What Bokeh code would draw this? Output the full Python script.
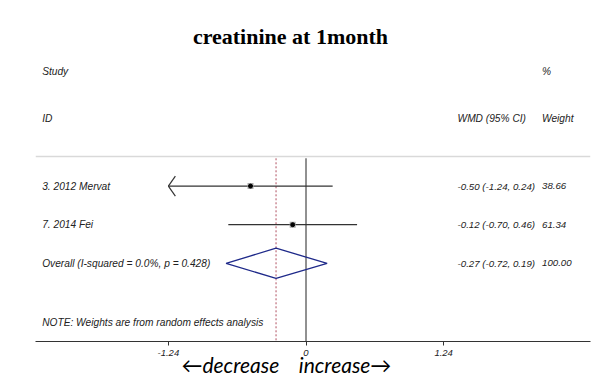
from bokeh.plotting import figure
from bokeh.models import Range1d, FixedTicker, Title, ColumnDataSource
from bokeh.core.properties import value
from bokeh.embed import file_html
from bokeh.resources import INLINE

# ---- data ----
studies = ["3. 2012 Mervat", "7. 2014 Fei"]
effect = [-0.50, -0.12]
ci_low = [-1.24, -0.70]
ci_high = [0.24, 0.46]
weights = [38.66, 61.34]
rows = [1, 2]

overall_label = "Overall  (I-squared = 0.0%, p = 0.428)"
overall_effect = -0.27
overall_low = -0.72
overall_high = 0.19
overall_weight = 100.00
overall_row = 3

axis_min = -1.24  # CI clipped at the displayed lower limit
tick_values = [-1.24, 0, 1.24]
tick_labels = ["-1.24", "0", "1.24"]

title_text = "creatinine at 1month"
note_text = "NOTE: Weights are from random effects analysis"
direction_text = "\u2190decrease\u00a0\u00a0\u00a0\u00a0increase\u2192"

def ci_text(e, l, h):
    return f"{e:.2f} ({l:.2f}, {h:.2f})"

# ---- figure ----
W, H = 606, 383
p = figure(width=W, height=H, output_backend="svg", toolbar_location=None,
           x_range=Range1d(-2.437, 2.563), y_range=Range1d(5.026, -3.60),
           y_axis_location=None, min_border_left=35, min_border_right=W - 590,
           min_border_top=8, min_border_bottom=H - 341)
p.grid.visible = False
p.outline_line_color = None
p.background_fill_color = "white"
p.border_fill_color = "white"

ax = p.xaxis[0]
ax.ticker = FixedTicker(ticks=tick_values)
ax.major_label_overrides = {v: t for v, t in zip(tick_values, tick_labels)}
ax.minor_tick_line_color = None
ax.major_tick_in = 0
ax.major_tick_out = 4
ax.axis_line_color = "#333333"
ax.major_tick_line_color = "#333333"
ax.major_label_text_font = "Liberation Sans"
ax.major_label_text_font_style = "italic"
ax.major_label_text_font_size = "9.5px"
ax.major_label_text_color = "#222222"
ax.major_label_standoff = 4

# direction text under the axis
p.add_layout(Title(text=direction_text, align="left", offset=146, standoff=-18,
                   text_font="Lato", text_font_style="italic", text_font_size="21px",
                   text_color="black"), "below")

font = value("Liberation Sans")
tcol = "#222222"
fs = value("10.2px")
fs_num = value("9.7px")

# title
p.text(x=[-0.14], y=[-2.88], text=[title_text], text_font=value("Liberation Serif"),
       text_font_style="bold", text_font_size=value("22px"), text_align="center",
       text_baseline="middle", text_color="black")

# headers
left_x = -2.377
ci_x = 1.365
w_x = 2.126
p.text(x=[left_x, left_x], y=[-1.98, -0.74], text=["Study", "ID"], text_font=font,
       text_font_style="italic", text_font_size=fs, text_baseline="middle", text_color=tcol)
p.text(x=[ci_x], y=[-0.74], text=["WMD (95% CI)"], text_font=font,
       text_font_style="italic", text_font_size=fs, text_baseline="middle", text_color=tcol)
p.text(x=[w_x, w_x], y=[-1.98, -0.74], text=["%", "Weight"], text_font=font,
       text_font_style="italic", text_font_size=fs, text_baseline="middle", text_color=tcol)

# top separator line
p.segment(x0=[-2.437], y0=[0.233], x1=[2.563], y1=[0.233], line_color="#d9d9d9", line_width=1.5)

# reference lines
p.segment(x0=[0], y0=[0.28], x1=[0], y1=[5.1], line_color="#222222", line_width=1)
p.segment(x0=[overall_effect], y0=[0.28], x1=[overall_effect], y1=[5.1],
          line_color="#b05060", line_width=1, line_dash="2 2")

# study rows
src = ColumnDataSource(dict(
    row=rows, es=effect, lo=ci_low, hi=ci_high,
    lab=studies,
    ci=[ci_text(e, l, h) for e, l, h in zip(effect, ci_low, ci_high)],
    w=[f"{w:.2f}" for w in weights],
    lo_draw=[max(l, axis_min) for l in ci_low],
))
p.segment(x0="lo_draw", y0="row", x1="hi", y1="row", source=src, line_color="#333333", line_width=1.2)
p.scatter(x="es", y="row", source=src, marker="square", size=6, fill_color="#aaaaaa",
          line_color=None)
p.scatter(x="es", y="row", source=src, marker="circle", size=4, fill_color="black",
          line_color="black")
p.text(x=left_x, y="row", text="lab", source=src, text_font=font, text_font_style="italic",
       text_font_size=fs, text_baseline="middle", text_color=tcol)
p.text(x=ci_x, y="row", text="ci", source=src, text_font=font, text_font_style="italic",
       text_font_size=fs_num, text_baseline="middle", text_color=tcol)
p.text(x=w_x, y="row", text="w", source=src, text_font=font, text_font_style="italic",
       text_font_size=fs_num, text_baseline="middle", text_color=tcol)

# open arrowhead for CI clipped at the display limit
px_per_x = 111.0
px_per_row = 38.63
arm_dx = 7 / px_per_x
arm_dy = 10 / px_per_row
for r, l in zip(rows, ci_low):
    if l <= axis_min:
        p.segment(x0=[axis_min, axis_min], y0=[r, r],
                  x1=[axis_min + arm_dx, axis_min + arm_dx], y1=[r - arm_dy, r + arm_dy],
                  line_color="#333333", line_width=1.2)

# overall diamond
h = 0.39
p.patch(x=[overall_low, overall_effect, overall_high, overall_effect, overall_low],
        y=[overall_row, overall_row - h, overall_row, overall_row + h, overall_row],
        fill_color=None, line_color="#1f2a8a", line_width=1.3)
p.text(x=[left_x], y=[overall_row], text=[overall_label], text_font=font,
       text_font_style="italic", text_font_size=fs, text_baseline="middle", text_color=tcol)
p.text(x=[ci_x], y=[overall_row], text=[ci_text(overall_effect, overall_low, overall_high)],
       text_font=font, text_font_style="italic", text_font_size=fs_num, text_baseline="middle",
       text_color=tcol)
p.text(x=[w_x], y=[overall_row], text=[f"{overall_weight:.2f}"], text_font=font,
       text_font_style="italic", text_font_size=fs_num, text_baseline="middle", text_color=tcol)

# note
p.text(x=[left_x], y=[4.53], text=[note_text], text_font=font, text_font_style="italic",
       text_font_size=fs, text_baseline="middle", text_color=tcol)

open("out.html", "w").write(file_html(p, INLINE))
